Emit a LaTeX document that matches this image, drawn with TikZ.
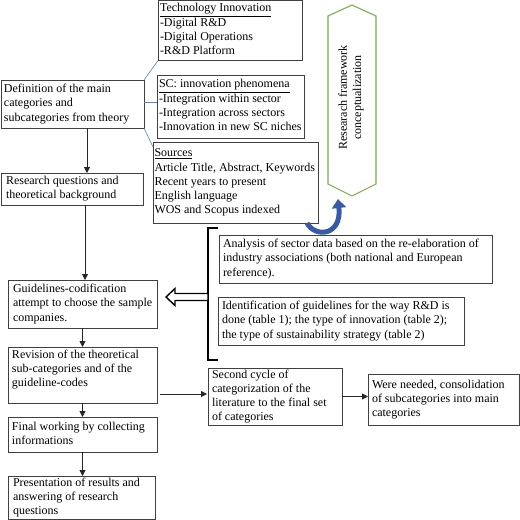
\documentclass[tikz,border=0pt]{standalone}
\usepackage{fontspec}
\setmainfont{Liberation Serif}
\usetikzlibrary{arrows.meta,calc}
\newcommand{\bxt}[2]{\makebox[#1][l]{\begin{tabular}{@{}l@{}}#2\end{tabular}}}
\definecolor{linkblue}{RGB}{91,127,200}
\definecolor{hexgreen}{RGB}{122,176,70}
\definecolor{bigblue}{RGB}{56,91,168}
\begin{document}
\begin{tikzpicture}[x=1pt,y=-1pt,
  font=\fontsize{12}{14.2}\selectfont,
  box/.style={draw=black!75, line width=0.8pt, rectangle, anchor=north west, inner ysep=0pt, outer sep=0pt},
  arr/.style={draw=black!85, line width=0.8pt, -{Triangle[length=6pt,width=6pt]}},
  thinlink/.style={draw=linkblue, line width=0.6pt},
  hexline/.style={draw=hexgreen, line width=1.1pt}]
\useasboundingbox (0,0) rectangle (520,520);

% top-right category boxes
\node[box, minimum width=144pt, minimum height=60pt, inner xsep=2pt] (tech) at (158,0.5)
  {\bxt{140pt}{\underline{Technology Innovation}\\-Digital R\&D\\-Digital Operations\\-R\&D Platform}};
\node[box, minimum width=147pt, minimum height=63pt, inner xsep=2pt] (sc) at (157,75)
  {\bxt{143pt}{\underline{SC: innovation phenomena}\\-Integration within sector\\-Integration across sectors\\-Innovation in new SC niches}};
\node[box, minimum width=165pt, minimum height=81pt, inner xsep=1.5pt] (src) at (153,142)
  {\bxt{162pt}{\underline{Sources}\\Article Title, Abstract, Keywords\\Recent years to present\\English language\\WOS and Scopus indexed}};

% left column
\node[box, minimum width=143pt, minimum height=48pt, inner xsep=3pt] (def) at (1,80)
  {\bxt{137pt}{Definition of the main\\categories and\\subcategories from theory}};
\node[box, minimum width=142pt, minimum height=32pt, inner xsep=5pt] (rq) at (1,173)
  {\bxt{132pt}{Research questions and\\theoretical background}};
\node[box, minimum width=149pt, minimum height=48pt, inner xsep=5pt] (guide) at (8,280)
  {\bxt{139pt}{Guidelines-codification\\attempt to choose the sample\\companies.}};
\node[box, minimum width=149pt, minimum height=56pt, inner xsep=4pt] (rev) at (8,347)
  {\bxt{141pt}{Revision of the theoretical\\sub-categories and of the\\guideline-codes\\[11pt]}};
\node[box, minimum width=149pt, minimum height=35pt, inner xsep=4pt] (fin) at (8,417)
  {\bxt{141pt}{Final working by collecting\\informations}};
\node[box, minimum width=147pt, minimum height=43.5pt, inner xsep=5pt] (pres) at (8,476)
  {\bxt{137pt}{Presentation of results and\\answering of research\\questions}};

% middle boxes
\node[box, minimum width=273pt, minimum height=48pt, inner xsep=4pt] (ana) at (219,235)
  {\bxt{265pt}{Analysis of sector data based on the re-elaboration of\\industry associations (both national and European\\reference).}};
\node[box, minimum width=246pt, minimum height=48pt, inner xsep=4pt] (ident) at (218,297)
  {\bxt{238pt}{Identification of guidelines for the way R\&D is\\done (table 1); the type of innovation (table 2);\\the type of sustainability strategy (table 2)}};
\node[box, minimum width=134pt, minimum height=57pt, inner xsep=4pt] (sc2) at (208,368)
  {\bxt{126pt}{Second cycle of\\categorization of the\\literature to the final set\\of categories}};
\node[box, minimum width=151pt, minimum height=51pt, inner xsep=4pt] (were) at (368,374)
  {\bxt{143pt}{Were needed, consolidation\\of subcategories into main\\categories}};

% hexagon
\draw[hexline] (352,5) -- (376,16) -- (376,184) -- (352,196) -- (328,184) -- (328,16) -- cycle;
\node[rotate=90, align=center, inner sep=0pt] (hexT) at (351,97.5) {Researach framework\\conceptualization};
\coordinate (hextip) at (338,199);

% thin blue links
\draw[thinlink] (def.north east) -- (tech.south west);
\draw[thinlink] ([yshift=2pt]def.east) -- ([yshift=2pt]def.east -| sc.west);
\draw[thinlink] (def.south east) -- ([yshift=-5pt]src.north west);

% big blue curved arrow
\draw[draw=bigblue, line width=5pt, -{Triangle[length=9pt,width=14pt]}]
  ([xshift=-11pt]src.south east) .. controls (315,238) and (342,236) .. (hextip);

% black arrows
\draw[arr] ([xshift=14.5pt]def.south) -- ([xshift=14.5pt]def.south |- rq.north);
\draw[arr] ([xshift=13pt]rq.south) -- ([xshift=13pt]rq.south |- guide.north);
\draw[arr] (guide.south) -- (rev.north);
\draw[arr] (rev.south) -- (rev.south |- fin.north);
\draw[arr] (fin.south) -- (fin.south |- pres.north);
\path ([xshift=3pt,yshift=-19pt]rev.east) coordinate (r1);
\draw[arr, shorten >=1pt] (r1) -- (r1 -| sc2.west);
\draw[arr] (sc2.east) -- (sc2.east -| were.west);

% bracket and hollow arrow
\coordinate (brk) at (208,297);
\coordinate (hatip) at (166,297);
\draw[line width=1.5pt, draw=black] (218,228) -- (208,228) -- (208,360) -- (218,360);
\draw[line width=1.4pt, draw=black, fill=white, line join=miter]
  (hatip) -- ++(9,-8.5) -- ++(0,5) -- (brk |- 0,293.5) -- (brk |- 0,300.5) -- (175,300.5) -- ++(0,5) -- cycle;
\end{tikzpicture}
\end{document}
